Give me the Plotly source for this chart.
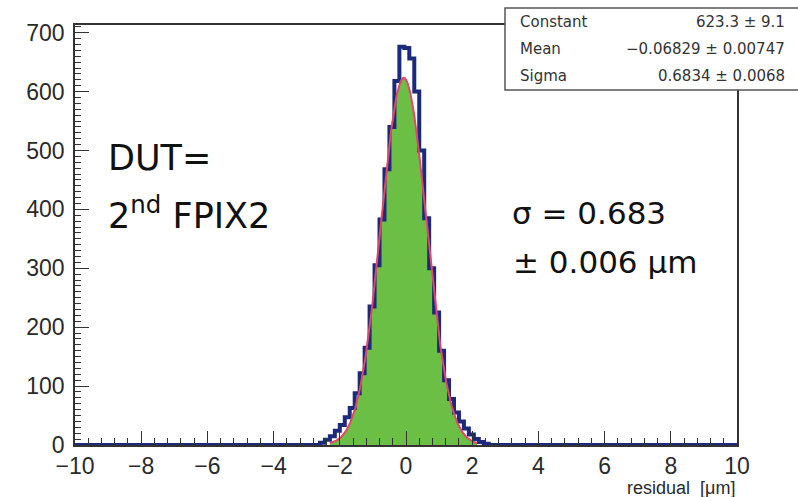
import numpy as np
import plotly.graph_objects as go

# ---- data ----
bin_width = 0.15
bin_centers = [-2.675, -2.525, -2.375, -2.225, -2.075, -1.925, -1.775, -1.625, -1.475,
               -1.325, -1.175, -1.025, -0.875, -0.725, -0.575, -0.425, -0.275, -0.125,
               0.025, 0.175, 0.325, 0.475, 0.625, 0.775, 0.925, 1.075, 1.225, 1.375,
               1.525, 1.675, 1.825, 1.975, 2.125, 2.275, 2.425, 2.575]
bin_counts = [0, 4, 9, 15, 24, 34, 47, 63, 88,
              122, 165, 235, 305, 383, 468, 540, 618, 676,
              674, 656, 600, 500, 385, 300, 225, 160, 110, 78,
              55, 40, 28, 18, 10, 5, 2, 0]

fit_names = ["Constant", "Mean", "Sigma"]
fit_values = [623.3, -0.06829, 0.6834]
fit_errors = [9.1, 0.00747, 0.0068]
fit_value_text = ["623.3 \u00b1 9.1", "\u22120.06829 \u00b1 0.00747", "0.6834 \u00b1 0.0068"]
fit_range = [-2.3, 2.15]

x_range = [-10, 10]
y_range = [0, 713]

# ---- traces ----
hx = [x_range[0]] + bin_centers + [x_range[1]]
hy = [0] + bin_counts + [0]

C, mu, sg = fit_values
fx = np.linspace(fit_range[0], fit_range[1], 300)
fy = C * np.exp(-0.5 * ((fx - mu) / sg) ** 2)

fig = go.Figure()
fig.add_trace(go.Scatter(x=fx, y=fy, mode="lines", line=dict(width=0.5, color="#6cbf45"),
                         fill="tozeroy", fillcolor="#6cbf45", hoverinfo="skip", showlegend=False))
fig.add_trace(go.Scatter(x=hx, y=hy, mode="lines", line=dict(color="#1b2a7a", width=4, shape="hvh"),
                         showlegend=False))
fig.add_trace(go.Scatter(x=fx, y=fy, mode="lines", line=dict(color="#e3456b", width=2),
                         showlegend=False))

W, H = 798, 497
L, R, T, B = 75, 61, 25, 52
pw, ph = W - L - R, H - T - B

def px(x):
    return (x - L) / pw

def py(y):
    return (H - B - y) / ph

tickfont = dict(family="Liberation Sans, Arial", size=23, color="#2a2a2a")
axis_common = dict(showgrid=False, zeroline=False, showline=True, linecolor="#333", linewidth=1.5,
                   mirror=True, ticks="inside", tickcolor="#333", tickwidth=1.2, tickfont=tickfont)

fig.update_layout(
    width=W, height=H, autosize=False,
    margin=dict(l=L, r=R, t=T, b=B, autoexpand=False),
    plot_bgcolor="white", paper_bgcolor="white",
    xaxis=dict(range=x_range, tick0=-10, dtick=2, ticklen=14,
               minor=dict(dtick=0.4, ticklen=7, ticks="inside", tickcolor="#333"), **axis_common),
    yaxis=dict(range=y_range, tick0=0, dtick=100, ticklen=14, ticklabelstandoff=4,
               minor=dict(dtick=10, ticklen=6, ticks="inside", tickcolor="#333"), **axis_common),
)

ann = []
ann.append(dict(text="residual  [\u03bcm]", x=px(737), y=py(488), xref="paper", yref="paper",
                xanchor="right", yanchor="middle", showarrow=False,
                font=dict(family="Liberation Sans, Arial", size=18, color="#2a2a2a")))
big = dict(family="DejaVu Sans, sans-serif", color="#111")
ann.append(dict(text="DUT=", x=px(106), y=py(158), xref="paper", yref="paper", xanchor="left",
                yanchor="middle", showarrow=False, font=dict(size=35, **big)))
ann.append(dict(text="2<sup>nd</sup> FPIX2", x=px(106), y=py(213), xref="paper", yref="paper",
                xanchor="left", yanchor="middle", showarrow=False, font=dict(size=35, **big)))
ann.append(dict(text="\u03c3 = 0.683", x=px(510), y=py(213), xref="paper", yref="paper",
                xanchor="left", yanchor="middle", showarrow=False, font=dict(size=31, **big)))
ann.append(dict(text="\u00b1 0.006 \u03bcm", x=px(511), y=py(262), xref="paper", yref="paper",
                xanchor="left", yanchor="middle", showarrow=False, font=dict(size=31, **big)))

# stats box
fig.add_shape(type="rect", xref="paper", yref="paper", x0=px(505), x1=px(800), y0=py(90), y1=py(8),
              fillcolor="white", line=dict(color="#555", width=1.5), layer="above")
rows_y = [22, 49, 76]
sfont = dict(family="DejaVu Sans, sans-serif", size=15, color="#333")
for name, val, yy in zip(fit_names, fit_value_text, rows_y):
    ann.append(dict(text=name, x=px(518), y=py(yy), xref="paper", yref="paper", xanchor="left",
                    yanchor="middle", showarrow=False, font=sfont))
    ann.append(dict(text=val, x=px(787), y=py(yy), xref="paper", yref="paper", xanchor="right",
                    yanchor="middle", showarrow=False, font=sfont))

fig.update_layout(annotations=ann)
fig.write_html("out.html", config={"displayModeBar": False},
               post_script="document.body.style.margin='0';document.body.style.overflow='hidden';")
